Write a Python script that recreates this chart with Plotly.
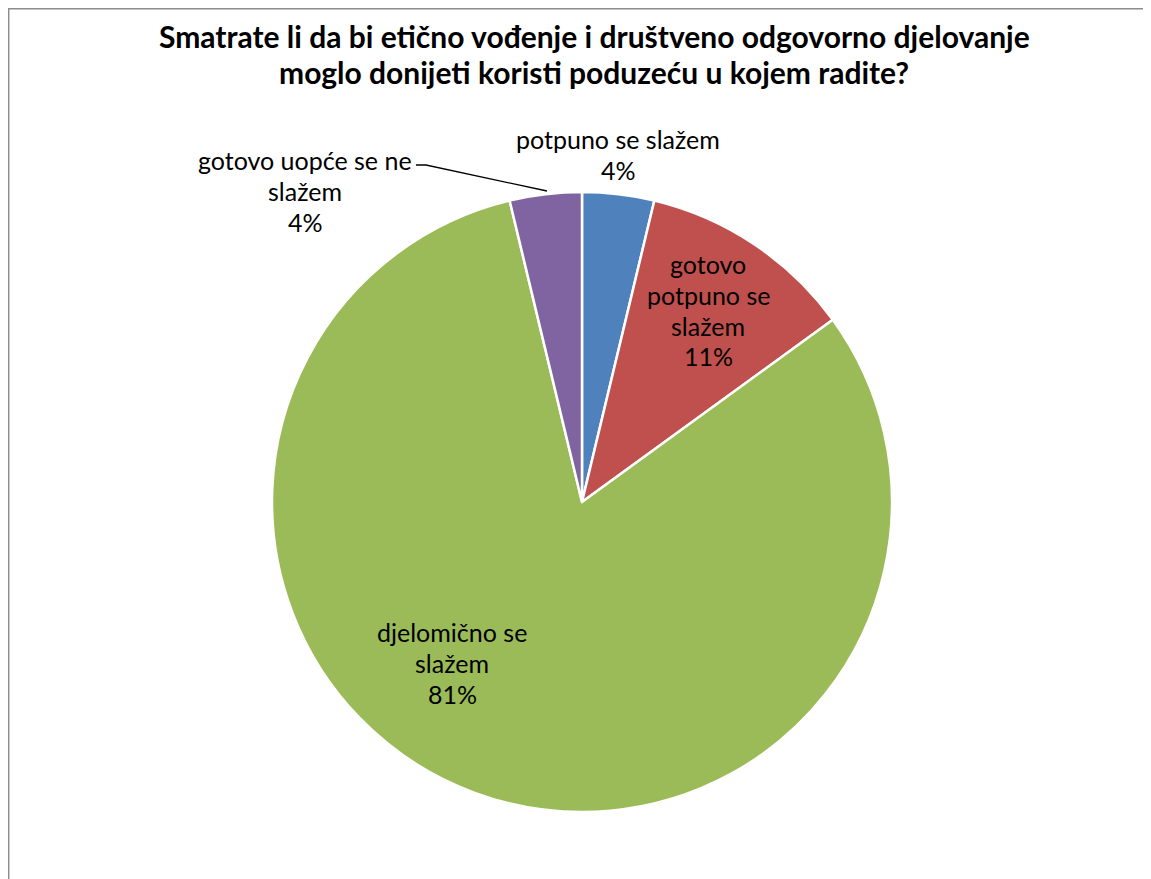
import plotly.graph_objects as go

# ---- data ----
title_lines = ["Smatrate li da bi etično vođenje i društveno odgovorno djelovanje",
               "moglo donijeti koristi poduzeću u kojem radite?"]
categories = ["potpuno se slažem", "gotovo potpuno se slažem",
              "djelomično se slažem", "gotovo uopće se ne slažem"]
counts = [3, 9, 65, 3]
colors = ["#4F81BD", "#C0504D", "#9BBB59", "#8064A2"]
wrapped = [["potpuno se slažem"],
           ["gotovo", "potpuno se", "slažem"],
           ["djelomično se", "slažem"],
           ["gotovo uopće se ne", "slažem"]]

OFF = 8  # page body margin
W, H = 1151 - OFF, 879 - OFF
FONT = "Lato"

def px(x):
    return (x - OFF) / W

def py(y):
    return 1 - (y - OFF) / H

fig = go.Figure()
fig.add_trace(go.Pie(
    labels=categories, values=counts, sort=False, direction="clockwise",
    rotation=0, textinfo="none", hoverinfo="label+percent",
    marker=dict(colors=colors, line=dict(color="white", width=2.5)),
    domain=dict(x=[px(272), px(892)], y=[py(812), py(192)]),
    showlegend=False,
))

annotations = []
for i, t in enumerate(title_lines):
    annotations.append(dict(text="<b>%s</b>" % t, x=px(594), y=py(36 + 36 * i),
                            xref="paper", yref="paper", showarrow=False,
                            xanchor="center", yanchor="middle",
                            font=dict(family=FONT, size=30, color="black")))

total = sum(counts)
label_pos = [(618, 139), (708, 264), (452, 632), (305, 160)]
spacing = 30.8
for lines, v, (lx, ly) in zip(wrapped, counts, label_pos):
    all_lines = lines + ["%d%%" % round(v / total * 100)]
    for j, ln in enumerate(all_lines):
        annotations.append(dict(text=ln, x=px(lx), y=py(ly + spacing * j),
                                xref="paper", yref="paper", showarrow=False,
                                xanchor="center", yanchor="middle",
                                font=dict(family=FONT, size=25, color="black")))

border = dict(color="#8c8c8c", width=1.5)
shapes = [
    dict(type="line", xref="paper", yref="paper",
         x0=0.0006, y0=1.0, x1=0.0006, y1=0.0, line=border),
    dict(type="line", xref="paper", yref="paper",
         x0=0.0, y0=0.9992, x1=1.0, y1=0.9992, line=border),
    dict(type="path", xref="paper", yref="paper",
         path="M %f %f L %f %f L %f %f" % (px(416), py(165), px(426), py(165), px(547), py(191)),
         line=dict(color="black", width=1.3)),
]

fig.update_layout(
    width=W, height=H,
    margin=dict(l=0, r=0, t=0, b=0),
    paper_bgcolor="white", plot_bgcolor="white",
    annotations=annotations, shapes=shapes,
    font=dict(family=FONT),
)

fig.write_html("out.html")
